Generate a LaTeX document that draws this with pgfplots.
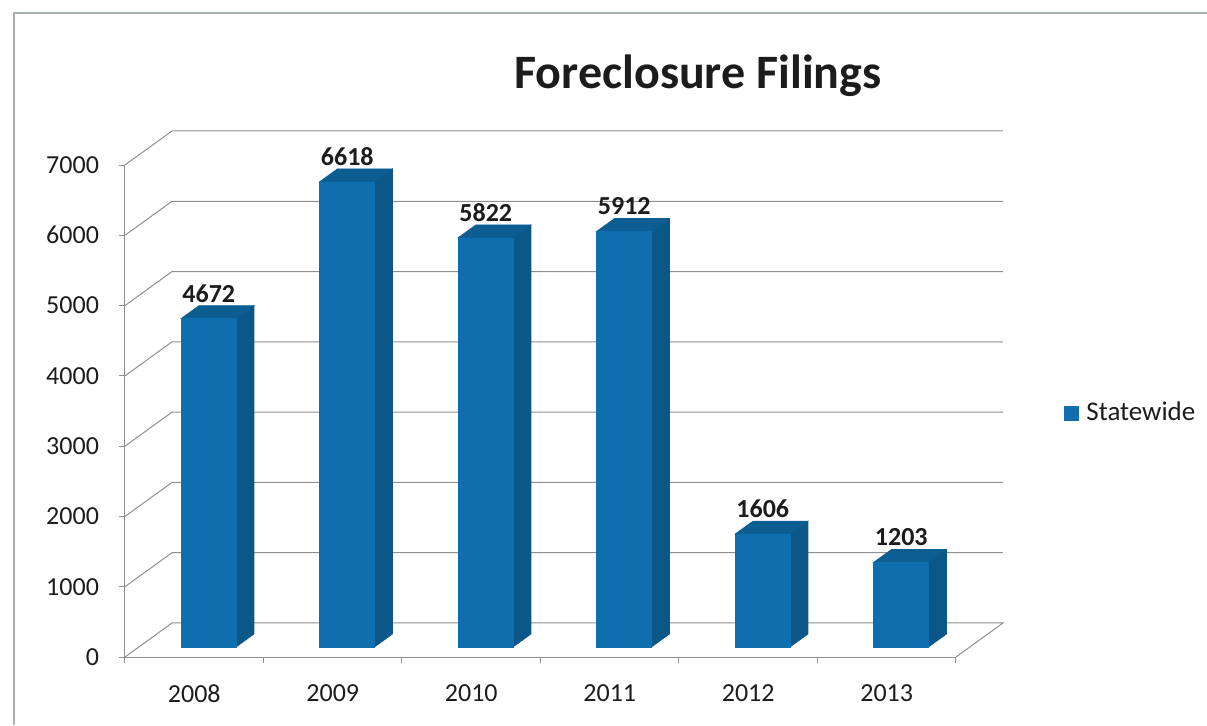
\documentclass[border=0pt]{standalone}
\usepackage{fontspec}
\setmainfont{Carlito}
\usepackage{pgfplots}
\usepackage{pgfplotstable}
\pgfplotsset{compat=1.18}

\definecolor{barfront}{HTML}{0F6FAE}
\definecolor{barside}{HTML}{0B5787}
\definecolor{bartop}{HTML}{0B5D92}
\definecolor{gridgray}{HTML}{8F8F8F}
\definecolor{framegray}{HTML}{A9B0B0}
\definecolor{textblack}{HTML}{1C1C1C}

\pgfplotstableread{
x v
0 4672
1 6618
2 5822
3 5912
4 1606
5 1203
}\filings

% one 3d column: side, top and front face
\newcommand{\column}[2]{%
  \addplot[forget plot, draw=barside, line width=0.3pt, fill=barside] coordinates {
    ({#1+0.3014},142) ({#1+0.4314},327) ({#1+0.4314},{#2+327}) ({#1+0.3014},{#2+142})} --cycle;
  \addplot[forget plot, draw=bartop, line width=0.3pt, fill=bartop] coordinates {
    ({#1-0.0957},{#2+142}) ({#1+0.0343},{#2+327}) ({#1+0.4314},{#2+327}) ({#1+0.3014},{#2+142})} --cycle;
  \addplot[forget plot, draw=barfront, line width=0.3pt, fill=barfront] coordinates {
    ({#1-0.0957},142) ({#1-0.0957},{#2+142}) ({#1+0.3014},{#2+142}) ({#1+0.3014},142)} --cycle;
}

\begin{document}
\begin{tikzpicture}[x=1pt,y=1pt]
\path[use as bounding box] (-62.5,-34) rectangle (541,328.5);
\draw[framegray, line width=0.6pt] (-55.5,-34) -- (-55.5,322) -- (541,322);
\begin{axis}[
    at={(0,0)}, anchor=south west,
    scale only axis,
    width=415.5pt,
    height=246pt,
    clip=false,
    xmin=-0.5, xmax=5.5,
    ymin=0, ymax=7000,
    axis x line*=bottom,
    axis y line*=left,
    axis line style={gridgray, line width=0.5pt, -},
    xtick={-0.5,0.5,1.5,2.5,3.5,4.5,5.5},
    xticklabels={2008,2009,2010,2011,2012,2013},
    x tick label as interval,
    ytick={0,1000,...,7000},
    tick align=outside,
    major tick length=3pt,
    tick style={gridgray, line width=0.5pt},
    tick label style={font=\fontsize{13}{15}\selectfont, text=textblack},
    xticklabel style={yshift=-7.5pt},
    yticklabel style={xshift=-6.5pt},
    /pgf/number format/assume math mode=true,
    /pgf/number format/1000 sep={},
    legend style={at={(axis description cs:1.129,0.496)}, anchor=west,
        draw=none, fill=none, font=\fontsize{13.5}{15}\selectfont,
        text=textblack, inner sep=0pt},
    legend image code/.code={\fill[barfront] (0,-3.5pt) rectangle (7pt,3.5pt);},
    legend cell align=left,
]
\addlegendimage{barfront}
\addlegendentry{\hspace{2pt}Statewide}

% walls and floor
\addplot[forget plot, gridgray, line width=0.5pt] coordinates {
    (-0.5,0) (-0.1606,484) (5.8394,484) (5.5,0)};
\pgfplotsinvokeforeach{1000,2000,3000,4000,5000,6000,7000}{
  \addplot[forget plot, gridgray, line width=0.5pt] coordinates {
    (-0.5,#1) (-0.1606,{#1+484}) (5.8394,{#1+484})};
}

\column{0}{4672}
\column{1}{6618}
\column{2}{5822}
\column{3}{5912}
\column{4}{1606}
\column{5}{1203}

% value labels
\addplot[forget plot, draw=none, mark=none,
    point meta=explicit,
    nodes near coords,
    nodes near coords style={anchor=south, inner sep=0pt, yshift=1.5pt,
        font=\fontsize{13}{15}\selectfont\bfseries, text=textblack},
    /pgf/number format/fixed,
    /pgf/number format/precision=0,
] table[x expr=\thisrow{x}+0.105, y expr=\thisrow{v}+327, meta=v] {\filings};
\end{axis}
\node[font=\fontsize{24}{28}\selectfont\bfseries, text=textblack] at (286.5,290.5) {Foreclosure Filings};
\end{tikzpicture}
\end{document}
